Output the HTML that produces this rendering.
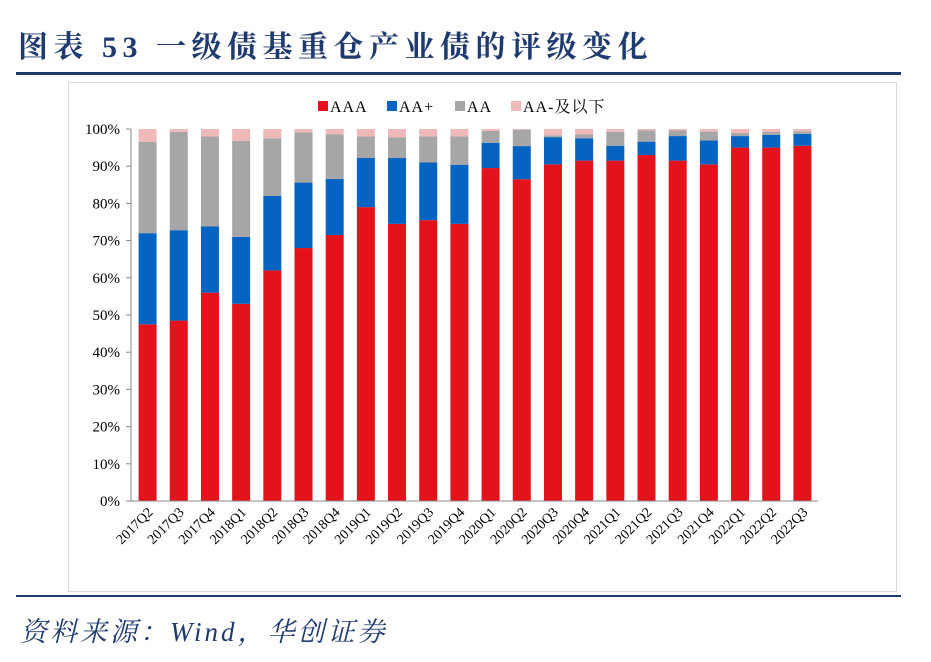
<!DOCTYPE html>
<html><head><meta charset="utf-8"><style>
body{margin:0;background:#fff;width:931px;height:662px;overflow:hidden;font-family:"Liberation Serif","Noto Serif CJK SC",serif}
</style></head><body>
<div style="position:absolute;left:18px;top:22px;font-size:30px;font-weight:bold;color:#1f3a6e;font-family:'Liberation Serif','Noto Serif CJK SC',serif;letter-spacing:5.5px;white-space:nowrap">图表 53&nbsp;一级债基重仓产业债的评级变化</div>
<div style="position:absolute;left:16px;top:72px;width:885px;height:3px;background:#1f3a6e"></div>
<div style="position:absolute;left:68px;top:82px;width:827px;height:508px;border:1px solid #d9d9d9"></div>
<div style="position:absolute;left:16px;top:595px;width:885px;height:2px;background:#1f3a6e"></div>
<div style="position:absolute;left:20px;top:610px;font-size:27px;font-style:italic;color:#1f3a6e;letter-spacing:3px;white-space:nowrap;font-family:'Liberation Serif','Noto Serif CJK SC',serif">资料来源：Wind，华创证券</div>
<svg id="chart" width="931" height="662" style="position:absolute;left:0;top:0"></svg>
<script>
const categories=["2017Q2","2017Q3","2017Q4","2018Q1","2018Q2","2018Q3","2018Q4","2019Q1","2019Q2","2019Q3","2019Q4","2020Q1","2020Q2","2020Q3","2020Q4","2021Q1","2021Q2","2021Q3","2021Q4","2022Q1","2022Q2","2022Q3"];
const aaa=[47.5,48.5,56,53,62,68,71.5,79,74.5,75.5,74.5,89.5,86.5,90.5,91.5,91.5,93,91.5,90.5,95,95,95.5];
const aaPlus=[24.5,24.3,17.8,18,20,17.6,15.1,13.2,17.7,15.5,15.9,6.8,8.9,7.3,6,4,3.6,6.6,6.4,3.1,3.4,3.2];
const aa=[24.5,26.4,24.2,25.8,15.5,13.5,12,5.8,5.6,7,7.6,3.2,4.4,0.5,1.1,3.7,3,1.5,2.4,0.8,0.8,0.7];
const aaMinus=[3.5,0.8,2,3.2,2.5,0.9,1.4,2,2.2,2,2,0.5,0.2,1.7,1.4,0.8,0.4,0.4,0.7,1.1,0.8,0.6];
const yTicks=[0,10,20,30,40,50,60,70,80,90,100];
const seriesNames=["AAA","AA+","AA","AA-及以下"];
const NS="http://www.w3.org/2000/svg";
const svg=document.getElementById('chart');
const L=132,R=818,T=129,B=501;
const band=(R-L)/categories.length,bw=18;
const y=v=>B-(B-T)*v/100;
const xc=i=>L+band*(i+0.5);
function mk(t,a){const e=document.createElementNS(NS,t);for(const k in a)e.setAttribute(k,a[k]);svg.appendChild(e);return e;}
const colors=["#e3121b","#0563c1","#a6a6a6","#efb8b9"];
const series=[aaa,aaPlus,aa,aaMinus];
yTicks.forEach(v=>{
 const t=mk('text',{x:120,y:y(v)+5,'text-anchor':'end','font-size':15,fill:'#000','font-family':'Liberation Serif, serif'});t.textContent=v+'%';
 
 
 const tk=mk('line',{x1:126,x2:131,y1:y(v),y2:y(v),stroke:'#888'});
 
 
});
const ax=mk('line',{x1:131,x2:131,y1:T,y2:B,stroke:'#888'});


categories.forEach((c,i)=>{
 let base=0;
 series.forEach((s,k)=>{
  const r=mk('rect',{x:xc(i)-bw/2,y:y(base+s[i]),width:bw,height:y(base)-y(base+s[i]),fill:colors[k]});
  
  
  base+=s[i];
 });
 const t=mk('text',{x:xc(i)+6,y:B+12,'text-anchor':'end','font-size':14,fill:'#000',transform:`rotate(-45 ${xc(i)+6} ${B+12})`,'font-family':'Liberation Serif, serif'});
 t.textContent=c;
 
 
});
const ax2=mk('line',{x1:131,x2:R,y1:B,y2:B,stroke:'#888'});


const lx=[318,387,455,511];
seriesNames.forEach((n,k)=>{
 const r=mk('rect',{x:lx[k],y:101,width:10,height:10,fill:colors[k]});
 
 
 const t=mk('text',{x:lx[k]+12,y:112,'font-size':16,'letter-spacing':1,fill:'#000','font-family':'Liberation Serif, Noto Serif CJK SC, serif'});
 t.textContent=n;
 
 
});
</script>
</body></html>
